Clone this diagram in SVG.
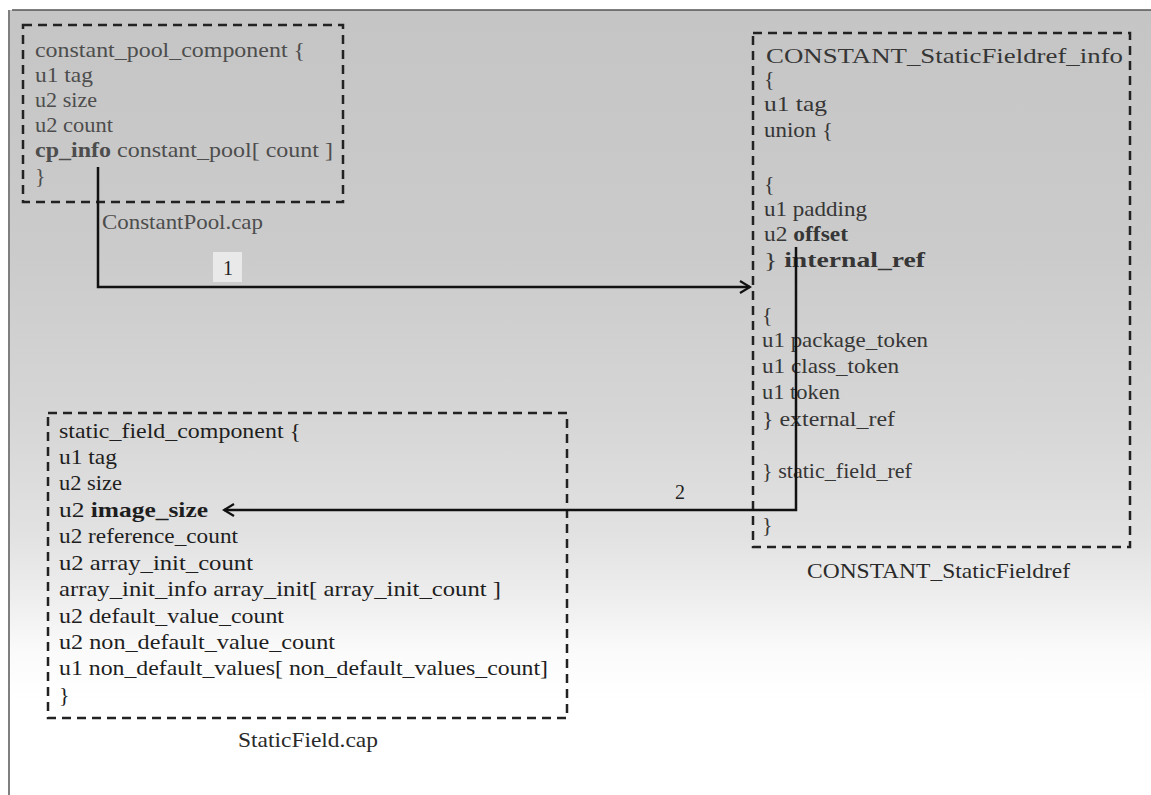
<svg xmlns="http://www.w3.org/2000/svg" width="1151" height="795" viewBox="0 0 1151 795">
  <defs>
    <linearGradient id="bg" gradientUnits="userSpaceOnUse" x1="0" y1="10" x2="0" y2="795">
      <stop offset="0" stop-color="#c5c5c5"/>
      <stop offset="0.31" stop-color="#cbcbcb"/>
      <stop offset="0.52" stop-color="#d6d6d6"/>
      <stop offset="0.67" stop-color="#e2e2e2"/>
      <stop offset="0.75" stop-color="#eeeeee"/>
      <stop offset="0.82" stop-color="#fbfbfb"/>
      <stop offset="0.88" stop-color="#ffffff"/>
    </linearGradient>
    <marker id="arr" markerUnits="userSpaceOnUse" viewBox="-13 -8 15 16" refX="0" refY="0" markerWidth="15" markerHeight="16" orient="auto">
      <path d="M-10,-6 L0,0 L-10,6" fill="none" stroke="#111" stroke-width="2.2" stroke-linejoin="miter"/>
    </marker>
    <style>
      text { font-family: "Liberation Serif", "Times New Roman", serif; font-size: 22px; }
      .box { fill: none; stroke: #222; stroke-width: 2.5; stroke-dasharray: 9 6; }
      .t1 { fill: #4d4d4d; }
      .t2 { fill: #1e1e1e; }
      .t3 { fill: #363636; }
      .cap { fill: #2a2a2a; }
      .b { font-weight: bold; }
      .conn { fill: none; stroke: #111; stroke-width: 2.5; }
      .lbl { fill: #222; font-size: 20px; text-anchor: middle; }
    </style>
  </defs>

  <!-- scanned background -->
  <rect x="10" y="10" width="1141" height="785" fill="url(#bg)"/>
  <line x1="12" y1="10" x2="1151" y2="10" stroke="#555" stroke-width="1.5"/>
  <line x1="9" y1="10" x2="9" y2="795" stroke="#555" stroke-width="1.5"/>

  <g id="constant_pool_component">
    <rect class="box" x="23" y="25" width="320" height="177"/>
    <text class="t1" x="35" y="57" textLength="270" lengthAdjust="spacingAndGlyphs">constant_pool_component {</text>
    <text class="t1" x="35" y="82" textLength="58" lengthAdjust="spacingAndGlyphs">u1 tag</text>
    <text class="t1" x="35" y="107" textLength="62" lengthAdjust="spacingAndGlyphs">u2 size</text>
    <text class="t1" x="35" y="132" textLength="78" lengthAdjust="spacingAndGlyphs">u2 count</text>
    <text class="t1" x="35" y="157" textLength="298" lengthAdjust="spacingAndGlyphs"><tspan class="b">cp_info</tspan> constant_pool[ count ]</text>
    <text class="t1" x="35" y="183">}</text>
    <text class="t1" x="102" y="229" textLength="161" lengthAdjust="spacingAndGlyphs">ConstantPool.cap</text>
  </g>

  <g id="constant_staticfieldref_info">
    <rect class="box" x="753" y="33" width="377" height="514"/>
    <text class="t3" x="766" y="63" font-size="23" textLength="357" lengthAdjust="spacingAndGlyphs">CONSTANT_StaticFieldref_info</text>
    <text class="t3" x="764" y="86">{</text>
    <text class="t3" x="764" y="111" textLength="63" lengthAdjust="spacingAndGlyphs">u1 tag</text>
    <text class="t3" x="764" y="137" textLength="69" lengthAdjust="spacingAndGlyphs">union {</text>
    <text class="t3" x="764" y="191">{</text>
    <text class="t3" x="764" y="216" textLength="103" lengthAdjust="spacingAndGlyphs">u1 padding</text>
    <text class="t3" x="764" y="241" textLength="84" lengthAdjust="spacingAndGlyphs">u2 <tspan class="b">offset</tspan></text>
    <text class="t3" x="764" y="267" textLength="161" lengthAdjust="spacingAndGlyphs">}  <tspan class="b">internal_ref</tspan></text>
    <text class="t3" x="762" y="322">{</text>
    <text class="t3" x="762" y="347" textLength="166" lengthAdjust="spacingAndGlyphs">u1 package_token</text>
    <text class="t3" x="762" y="373" textLength="137" lengthAdjust="spacingAndGlyphs">u1 class_token</text>
    <text class="t3" x="762" y="399" textLength="78" lengthAdjust="spacingAndGlyphs">u1 token</text>
    <text class="t3" x="762" y="426" textLength="133" lengthAdjust="spacingAndGlyphs">} external_ref</text>
    <text class="t3" x="762" y="478" textLength="150" lengthAdjust="spacingAndGlyphs">} static_field_ref</text>
    <text class="t3" x="762" y="532">}</text>
    <text class="cap" x="807" y="578" textLength="263" lengthAdjust="spacingAndGlyphs">CONSTANT_StaticFieldref</text>
  </g>

  <g id="static_field_component">
    <rect class="box" x="48" y="413" width="519" height="305"/>
    <text class="t2" x="59" y="438" textLength="242" lengthAdjust="spacingAndGlyphs">static_field_component {</text>
    <text class="t2" x="59" y="464" textLength="58" lengthAdjust="spacingAndGlyphs">u1 tag</text>
    <text class="t2" x="59" y="490" textLength="63" lengthAdjust="spacingAndGlyphs">u2 size</text>
    <text class="t2" x="59" y="517" textLength="149" lengthAdjust="spacingAndGlyphs">u2 <tspan class="b">image_size</tspan></text>
    <text class="t2" x="59" y="543" textLength="179" lengthAdjust="spacingAndGlyphs">u2 reference_count</text>
    <text class="t2" x="59" y="570" textLength="194" lengthAdjust="spacingAndGlyphs">u2 array_init_count</text>
    <text class="t2" x="59" y="596" textLength="442" lengthAdjust="spacingAndGlyphs">array_init_info array_init[ array_init_count ]</text>
    <text class="t2" x="59" y="623" textLength="225" lengthAdjust="spacingAndGlyphs">u2 default_value_count</text>
    <text class="t2" x="59" y="649" textLength="276" lengthAdjust="spacingAndGlyphs">u2 non_default_value_count</text>
    <text class="t2" x="59" y="675" textLength="489" lengthAdjust="spacingAndGlyphs">u1 non_default_values[ non_default_values_count]</text>
    <text class="t2" x="59" y="702">}</text>
    <text class="cap" x="238" y="747" textLength="140" lengthAdjust="spacingAndGlyphs">StaticField.cap</text>
  </g>

  <g id="connectors">
    <path class="conn" d="M98,167 L98,287 L750,287" marker-end="url(#arr)"/>
    <rect x="213" y="252" width="29" height="30" fill="#e9e9e9"/>
    <text class="lbl" x="228" y="275">1</text>
    <path class="conn" d="M796,247 L796,510 L224,510" marker-end="url(#arr)"/>
    <text class="lbl" x="680" y="499">2</text>
  </g>
</svg>
